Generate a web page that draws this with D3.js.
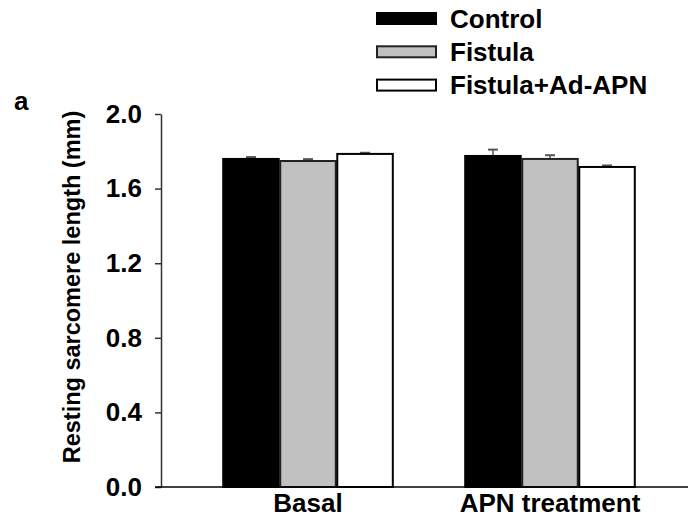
<!DOCTYPE html>
<html>
<head>
<meta charset="utf-8">
<script src="https://cdn.jsdelivr.net/npm/d3@7"></script>
<style>
  html, body { margin: 0; padding: 0; background: #fff; }
  svg { display: block; font-family: "Liberation Sans", Arial, sans-serif; font-weight: bold; }
</style>
</head>
<body>
<svg id="chart" width="688" height="523"></svg>
<script>
// Groups along the x axis and the series drawn in each group
const groups = ["Basal", "APN treatment"];
const seriesNames = ["Control", "Fistula", "Fistula+Ad-APN"];
const seriesFill = ["#000000", "#c0c0c0", "#ffffff"];
const seriesStroke = ["#000000", "#222222", "#000000"];

// Mean resting sarcomere length per series, one entry per group
const controlMean = [1.759, 1.775];
const fistulaMean = [1.748, 1.759];
const adApnMean = [1.786, 1.716];

// Standard error (upper whisker only)
const controlErr = [0.010, 0.034];
const fistulaErr = [0.010, 0.020];
const adApnErr = [0.006, 0.008];

const yTicks = [0.0, 0.4, 0.8, 1.2, 1.6, 2.0];

const means = [controlMean, fistulaMean, adApnMean];
const errs = [controlErr, fistulaErr, adApnErr];

const FONT = "Liberation Sans, Arial, sans-serif";
const svg = d3.select("#chart");

const y = d3.scaleLinear().domain([0, 2.0]).range([487, 114]);
const x0 = d3.scaleBand().domain(groups).range([161, 697])
  .paddingInner(0.293).paddingOuter(0.254);
const x1 = d3.scaleBand().domain(seriesNames).range([0, x0.bandwidth()]);

// Bars
const rows = [];
groups.forEach((g, gi) => {
  seriesNames.forEach((s, si) => {
    rows.push({ g, s, si, v: means[si][gi], e: errs[si][gi] });
  });
});

// Error whiskers (drawn first so the bar outline sits on top)
const eb = svg.append("g");
eb.selectAll("line.stem").data(rows).join("line")
  .attr("x1", d => x0(d.g) + x1(d.s) + x1.bandwidth() / 2)
  .attr("x2", d => x0(d.g) + x1(d.s) + x1.bandwidth() / 2)
  .attr("y1", d => y(d.v))
  .attr("y2", d => y(d.v + d.e))
  .attr("stroke", "#555").attr("stroke-width", 1.5);
eb.selectAll("line.cap").data(rows).join("line")
  .attr("x1", d => x0(d.g) + x1(d.s) + x1.bandwidth() / 2 - 5)
  .attr("x2", d => x0(d.g) + x1(d.s) + x1.bandwidth() / 2 + 5)
  .attr("y1", d => y(d.v + d.e))
  .attr("y2", d => y(d.v + d.e))
  .attr("stroke", "#555").attr("stroke-width", 2);

svg.append("g").selectAll("rect").data(rows).join("rect")
  .attr("x", d => x0(d.g) + x1(d.s) + 0.75)
  .attr("y", d => y(d.v))
  .attr("width", x1.bandwidth() - 1.5)
  .attr("height", d => y(0) - y(d.v))
  .attr("fill", d => seriesFill[d.si])
  .attr("stroke", d => seriesStroke[d.si])
  .attr("stroke-width", 2);

// Y axis
const yAxis = d3.axisLeft(y).tickValues(yTicks).tickFormat(d3.format(".1f"))
  .tickSizeOuter(0).tickSizeInner(6).tickPadding(13);
const ya = svg.append("g").attr("transform", "translate(161,0)").call(yAxis);
ya.select(".domain").attr("stroke", "#333").attr("stroke-width", 1.5);
ya.selectAll(".tick line").attr("stroke", "#333").attr("stroke-width", 1.5);
ya.selectAll(".tick text").attr("font-size", 26).attr("font-weight", "bold")
  .attr("font-family", FONT).attr("fill", "#000");

// X axis baseline and group labels
svg.append("line").attr("x1", 155).attr("x2", 688)
  .attr("y1", y(0)).attr("y2", y(0)).attr("stroke", "#000").attr("stroke-width", 1.5);
const xAxis = d3.axisBottom(x0).tickSize(0).tickPadding(7);
const xa = svg.append("g").attr("transform", `translate(0,${y(0)})`).call(xAxis);
xa.select(".domain").remove();
xa.selectAll(".tick text").attr("font-size", 26).attr("font-weight", "bold")
  .attr("font-family", FONT).attr("fill", "#000");

// Y axis title
svg.append("text")
  .attr("transform", "translate(80,287) rotate(-90)")
  .attr("text-anchor", "middle")
  .attr("font-size", 23.5)
  .text("Resting sarcomere length (mm)");

// Panel letter
svg.append("text").attr("x", 14).attr("y", 110).attr("font-size", 26).text("a");

// Legend
const legend = svg.append("g");
const lg = legend.selectAll("g").data(seriesNames).join("g")
  .attr("transform", (d, i) => `translate(376,${18.5 + i * 33.3})`);
lg.append("rect").attr("x", 1).attr("y", -5.5).attr("width", 59).attr("height", 11)
  .attr("fill", (d, i) => seriesFill[i])
  .attr("stroke", (d, i) => seriesStroke[i]).attr("stroke-width", 2);
lg.append("text").attr("x", 74).attr("dy", "0.36em").attr("font-size", 26)
  .text(d => d);
</script>
</body>
</html>
